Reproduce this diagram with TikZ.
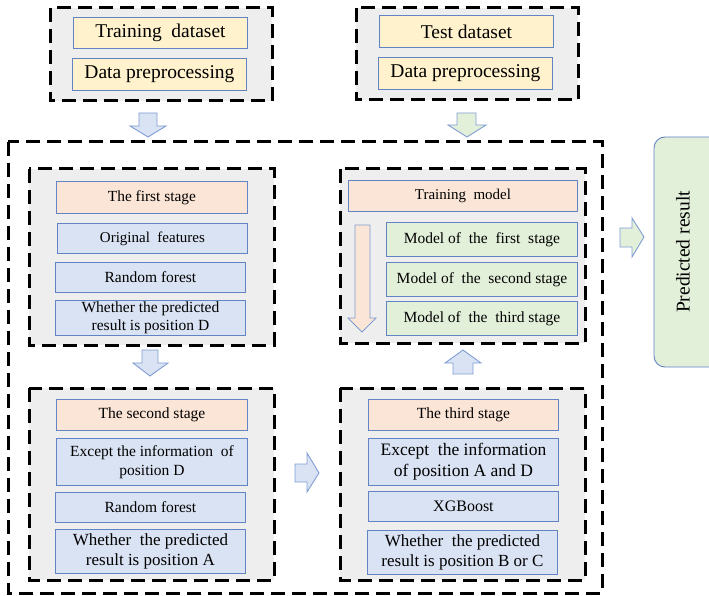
\documentclass[tikz,border=0pt]{standalone}
\usepackage{fontspec}
\setmainfont{Liberation Serif}
\definecolor{grayfill}{HTML}{EEEEEE}
\definecolor{yel}{HTML}{FFF2CC}
\definecolor{pnk}{HTML}{FBE5D6}
\definecolor{blu}{HTML}{DAE3F3}
\definecolor{grn}{HTML}{E2F0D9}
\definecolor{edge}{HTML}{6283C4}
\definecolor{arredge}{HTML}{7F9CD4}
\tikzset{
  group/.style={draw=black, fill=grayfill, line width=3pt, dash pattern=on 14pt off 7pt},
  outer/.style={draw=black, line width=3pt, dash pattern=on 14pt off 7pt},
  box/.style={draw=edge, line width=0.9pt, inner sep=0pt, anchor=north west, align=center, text=black},
  blockarrow/.style={draw=arredge, line width=0.9pt, line join=miter},
  fs/.style={font=\fontsize{#1}{#1}\selectfont},
}
\begin{document}
\begin{tikzpicture}[x=1pt,y=-1pt]
\useasboundingbox (0,0) rectangle (709,596);
% outer dashed frame
\draw[outer] (8,142) rectangle (602,593);
% top groups
\draw[group] (50,8) rectangle (272,101);
\node[box, fill=yel, minimum width=174pt, minimum height=31pt, fs=19.5] (train) at (73,17) {Training\ \ dataset};
\node[box, fill=yel, minimum width=174pt, minimum height=32pt, fs=19.5] (prep1) at (72,58) {Data preprocessing};
\draw[group] (356,8) rectangle (578,100);
\node[box, fill=yel, minimum width=174pt, minimum height=32pt, fs=19.5] (test) at (379,15) {Test\ dataset};
\node[box, fill=yel, minimum width=174pt, minimum height=32pt, fs=19.5] (prep2) at (378,57) {Data preprocessing};
% block arrows top
\draw[blockarrow, fill=blu] (139,113) -- (157,113) -- (157,126) -- (166,126) -- (148,137) -- (130,126) -- (139,126) -- cycle;
\draw[blockarrow, fill=grn] (457,113) -- (476,113) -- (476,125) -- (486,125) -- (467,137) -- (448,125) -- (457,125) -- cycle;
% first stage group
\draw[group] (29,169) rectangle (274,345);
\node[box, fill=pnk, minimum width=191pt, minimum height=32pt, fs=15.4] (s1) at (56,181) {The first stage};
\node[box, fill=blu, minimum width=190pt, minimum height=30pt, fs=15] (s1a) at (57,223) {Original\ \ features};
\node[box, fill=blu, minimum width=190pt, minimum height=30pt, fs=15.5] (s1b) at (55,262) {Random forest};
\node[box, fill=blu, minimum width=190pt, minimum height=35pt, font=\fontsize{15.5}{17.5}\selectfont] (s1c) at (55,300) {Whether the predicted\\result is position D};
% arrow down
\draw[blockarrow, fill=blu] (142,350) -- (158,350) -- (158,363) -- (168,363) -- (150,376) -- (133,363) -- (142,363) -- cycle;
% second stage group
\draw[group] (29,388) rectangle (274,580);
\node[box, fill=pnk, minimum width=191pt, minimum height=31pt, fs=15.5] (s2) at (56,399) {The second stage};
\node[box, fill=blu, minimum width=191pt, minimum height=47pt, font=\fontsize{15.5}{19}\selectfont] (s2a) at (56,438) {Except the information\ \ of\\position D};
\node[box, fill=blu, minimum width=190pt, minimum height=30pt, fs=15.5] (s2b) at (55,492) {Random forest};
\node[box, fill=blu, minimum width=190pt, minimum height=44pt, font=\fontsize{17}{20}\selectfont] (s2c) at (55,529) {Whether\ \ the predicted\\result is position A};
% arrow right
\draw[blockarrow, fill=blu] (295,464) -- (307,464) -- (307,453) -- (319,473) -- (307,492) -- (307,482) -- (295,482) -- cycle;
% third stage group
\draw[group] (340,388) rectangle (585,580);
\node[box, fill=pnk, minimum width=190pt, minimum height=31pt, fs=15.5] (s3) at (368,399) {The third stage};
\node[box, fill=blu, minimum width=190pt, minimum height=47pt, font=\fontsize{17.5}{21}\selectfont] (s3a) at (368,438) {Except\ \ the information\\of position A and D};
\node[box, fill=blu, minimum width=190pt, minimum height=30pt, fs=16] (s3b) at (368,491) {XGBoost};
\node[box, fill=blu, minimum width=190pt, minimum height=44pt, font=\fontsize{17}{20}\selectfont] (s3c) at (367,530) {Whether\ \ the predicted\\result is position B or C};
% arrow up
\draw[blockarrow, fill=blu] (453,374) -- (473,374) -- (473,363) -- (481,363) -- (463,350) -- (445,363) -- (453,363) -- cycle;
% training model group
\draw[group] (340,169) rectangle (585,343);
\node[box, fill=pnk, minimum width=229pt, minimum height=31pt, fs=15] (tm) at (348,180) {Training\ \ model};
\draw[blockarrow, fill=pnk] (355,225) -- (370,225) -- (370,318) -- (376,318) -- (362,332) -- (348,318) -- (355,318) -- cycle;
\node[box, fill=grn, minimum width=191pt, minimum height=34pt, fs=15.5] (m1) at (386,222) {Model of\ \ the\ \ first\ \ stage};
\node[box, fill=grn, minimum width=191pt, minimum height=34pt, fs=15.5] (m2) at (386,262) {Model of\ \ the\ \ second stage};
\node[box, fill=grn, minimum width=191pt, minimum height=34pt, fs=15.5] (m3) at (386,301) {Model of\ \ the\ \ third stage};
% arrow right to result
\draw[blockarrow, fill=grn] (620,228) -- (632,228) -- (632,218) -- (644,237) -- (632,257) -- (632,247) -- (620,247) -- cycle;
% predicted result
\draw[draw=edge, line width=0.9pt, fill=grn, rounded corners=11pt] (654,137) rectangle (730,367);
\node[rotate=90, fs=19.5] (res) at (683,252) {Predicted result};
\end{tikzpicture}
\end{document}
